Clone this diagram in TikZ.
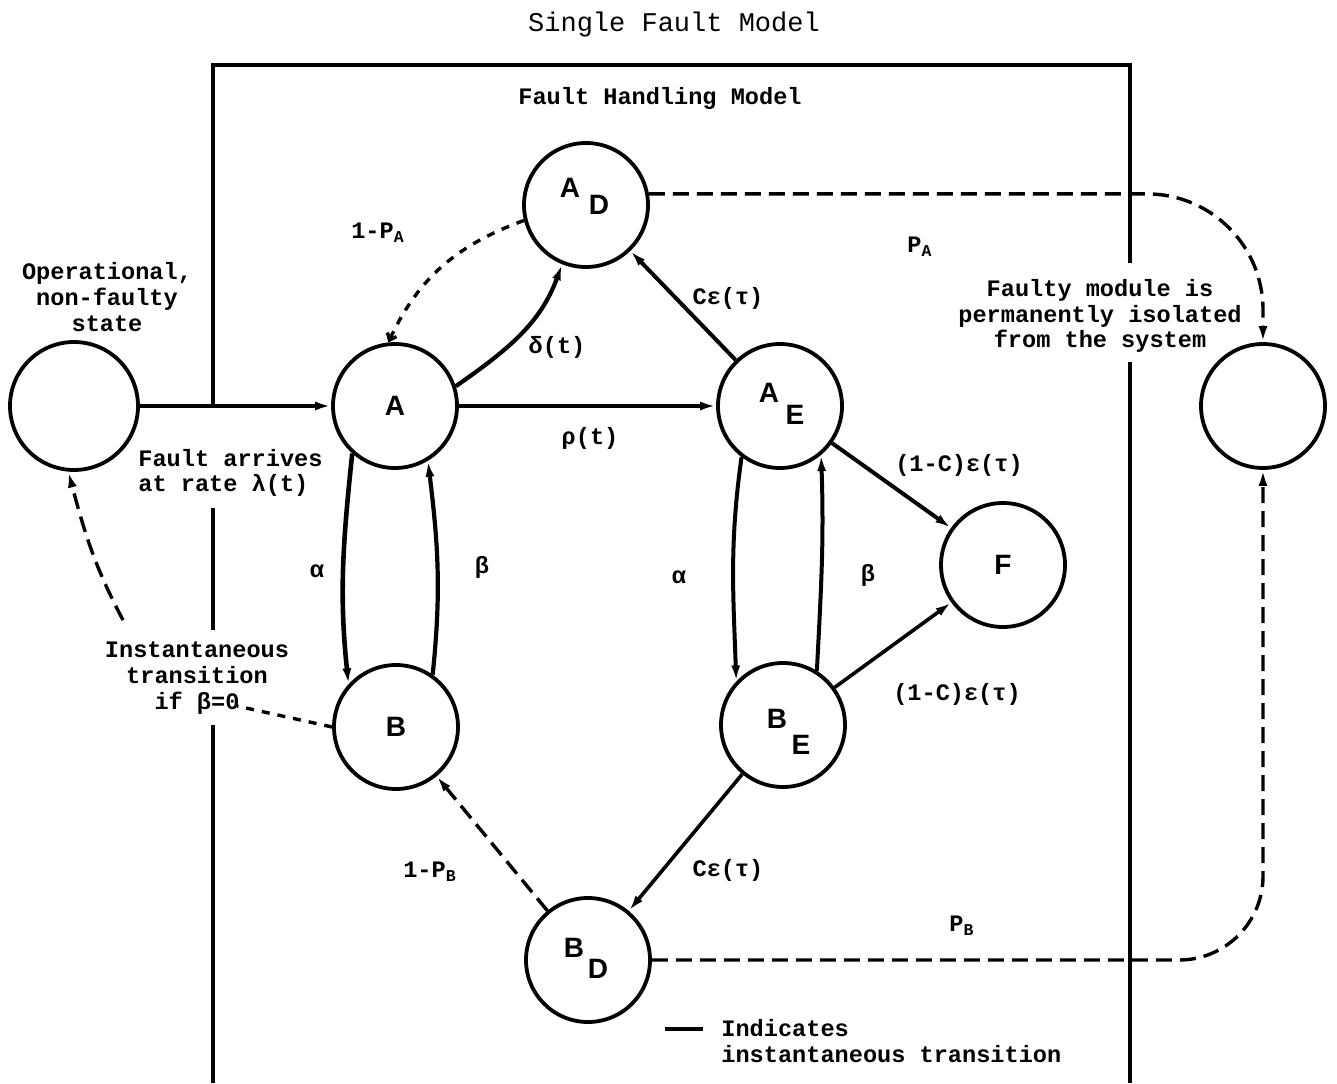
\documentclass[tikz,border=0pt]{standalone}
\usepackage{fontspec}
\setmainfont{Liberation Mono}
\newfontfamily\letterfont{Liberation Sans}
\usetikzlibrary{arrows.meta}
\begin{document}
\begin{tikzpicture}[x=0.5pt,y=0.5pt,
  >={Latex[length=8pt,width=4.5pt]},
  st/.style={circle,draw,line width=1.9pt,minimum size=62pt,inner sep=0pt,font=\letterfont\bfseries\fontsize{14}{16}\selectfont},
  sub/.style={inner sep=0pt,font=\letterfont\bfseries\fontsize{14}{16}\selectfont},
  lab/.style={inner sep=0pt,font=\bfseries\fontsize{11.8}{12.8}\selectfont,align=center},
  conn/.style={line width=1.8pt,->},
  dshort/.style={line width=1.7pt,dash pattern=on 4pt off 4pt},
  dlong/.style={line width=1.7pt,dash pattern=on 8pt off 4pt},
  frame/.style={line width=1.8pt}]
\useasboundingbox (0,0) rectangle (1337,1083);

% frame
\draw[frame] (213,677) -- (213,1018) -- (1130,1018) -- (1130,820);
\draw[frame] (213,575) -- (213,453);
\draw[frame] (213,358) -- (213,0);
\draw[frame] (1130,721) -- (1130,0);

\node[inner sep=0pt,font=\fontsize{13.5}{15}\selectfont] (title) at (674,1058) {Single Fault Model};
\node[lab] (fhm) at (660,985) {Fault Handling Model};

% states
\node[st,minimum size=64pt] (L) at (74,677) {};
\node[st] (A) at (395,677) {A};
\node[st] (AD) at (586,878) {};
\node[sub] (ADa) at (570,895) {A};
\node[sub] (ADd) at (599,878) {D};
\node[st] (AE) at (780,677) {};
\node[sub] (AEa) at (769,690) {A};
\node[sub] (AEe) at (795,668) {E};
\node[st] (B) at (396,356) {B};
\node[st] (BE) at (783,358) {};
\node[sub] (BEb) at (777,364) {B};
\node[sub] (BEe) at (801,338) {E};
\node[st] (BD) at (588,123) {};
\node[sub] (BDb) at (574,135) {B};
\node[sub] (BDd) at (598,114) {D};
\node[st] (F) at (1003,518) {F};
\node[st] (R) at (1263,677) {};

% connectors
\draw[conn] (L) -- (A);
\draw[conn,line width=2.1pt] (A.18) to[out=35,in=-110] (AD.-112);
\draw[dshort,-{Straight Barb[length=3pt,width=5pt]}] (AD.194) to[out=200,in=65] (A.96);
\draw[conn] (A) -- (AE);
\draw[conn,line width=2pt] (AE) -- (AD);
\draw[dlong,->,rounded corners=58pt] (AD.10) -- (AD.10 -| R.north) -- (R.north);
\draw[conn,line width=2.3pt] (A.228) to[out=264,in=96] (B.138);
\draw[conn,line width=2.1pt] (B.55) to[out=84,in=-83] (A.-59);
\draw[conn,line width=2pt] (AE.233) to[out=262,in=92] (BE.137);
\draw[conn,line width=2pt] (BE.58) to[out=87,in=-88] (AE.-50);
\draw[conn,line width=2pt] (AE) -- (F);
\draw[conn] (BE) -- (F);
\draw[conn] (BE) -- (BD);
\draw[dlong,->] (BD) -- (B);
\draw[dlong,->,rounded corners=42pt] (BD.east) -- (BD.east -| R.south) -- (R.south);
\coordinate (ifend) at (237,377);
\draw[dshort] (B.west) -- (ifend);
\coordinate (instop) at (123,463);
\draw[dlong,->] (instop) to[out=118,in=-75] (L.-95);

% labels
\node[lab] (ldelta) at (557,736) {δ(t)};
\node[lab] (lrho) at (590,645) {ρ(t)};
\node[lab] (l1pa) at (378,850) {1-P\textsubscript{A}};
\node[lab] (lcet1) at (728,785) {Cε(τ)};
\node[lab] (lpa) at (920,836) {P\textsubscript{A}};
\node[lab] (la1) at (317,512) {α};
\node[lab] (lb1) at (482,516) {β};
\node[lab] (la2) at (679,506) {α};
\node[lab] (lb2) at (868,508) {β};
\node[lab] (lce1) at (959,618) {(1-C)ε(τ)};
\node[lab] (lce2) at (957,389) {(1-C)ε(τ)};
\node[lab] (lcet2) at (728,213) {Cε(τ)};
\node[lab] (l1pb) at (430,211) {1-P\textsubscript{B}};
\node[lab] (lpb) at (962,157) {P\textsubscript{B}};
\node[lab] (lop) at (107,786) {Operational,\\non-faulty\\state};
\node[lab,align=left,anchor=west] (lfa) at (138,610) {Fault arrives\\at rate λ(t)};
\node[lab] (linst) at (197,405) {Instantaneous\\transition\\if β=0};
\node[lab] (liso) at (1100,767) {Faulty module is\\permanently isolated\\from the system};
\coordinate (leg1) at (665,54);
\coordinate (leg2) at (703,54);
\draw[line width=1.7pt] (leg1) -- (leg2);
\node[lab,align=left,anchor=west] (lleg) at (721,42) {Indicates\\instantaneous transition};
\end{tikzpicture}
\end{document}
